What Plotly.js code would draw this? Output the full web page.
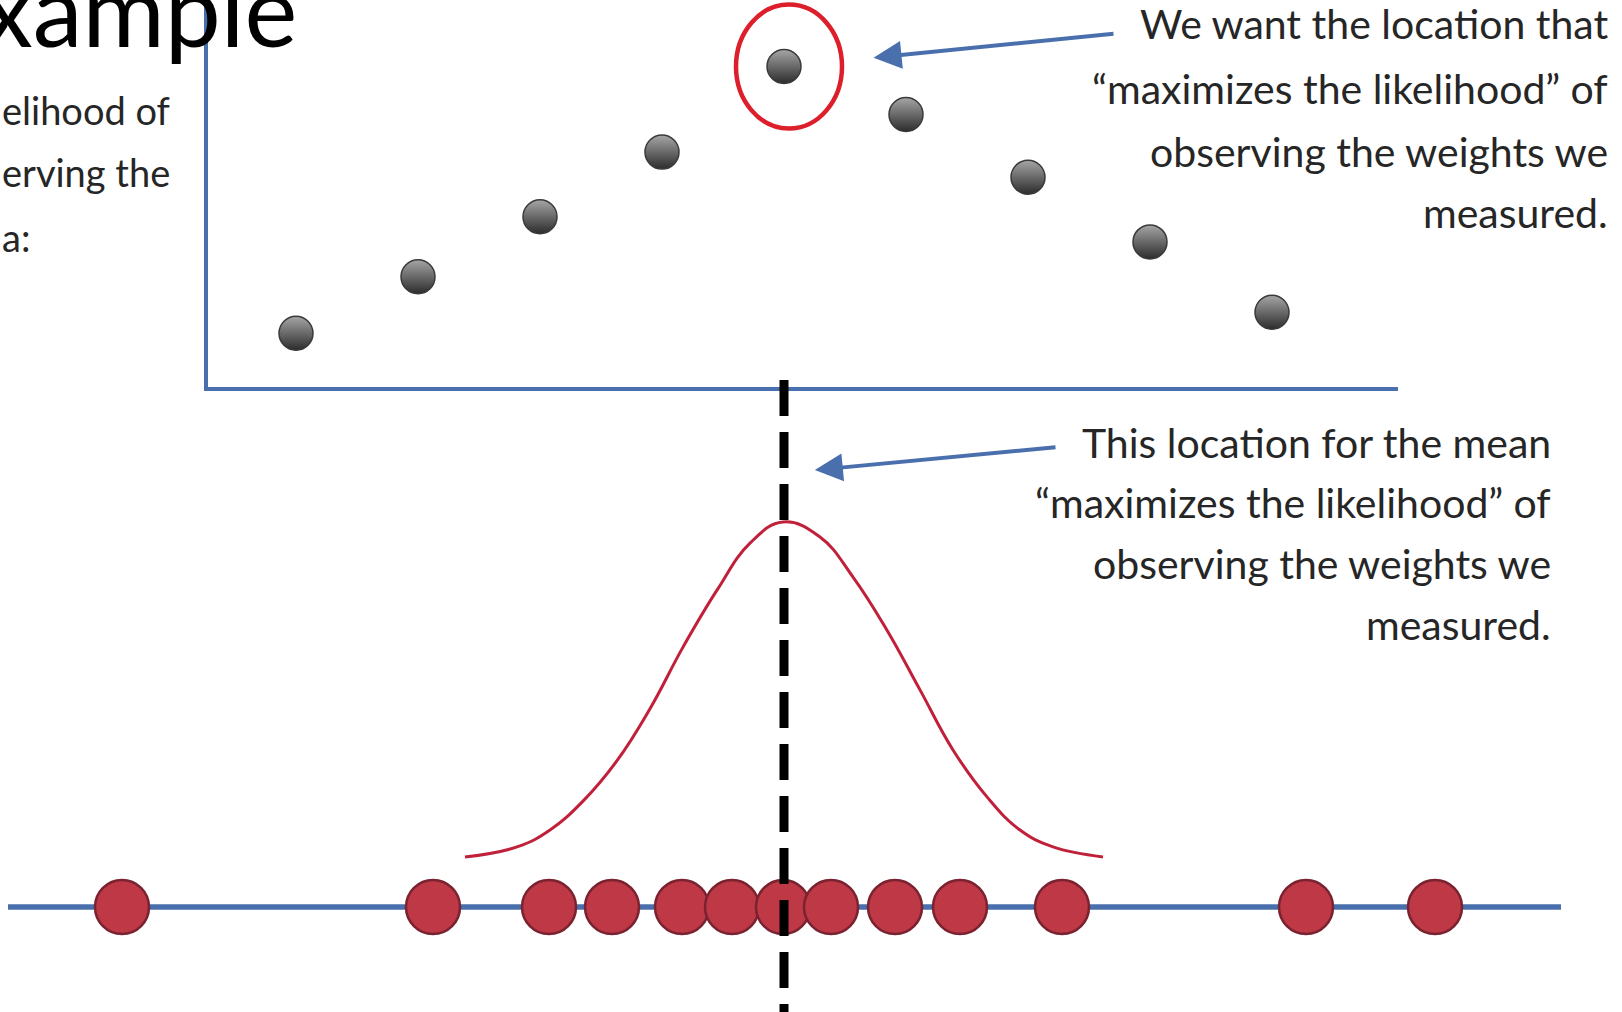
<!DOCTYPE html>
<html>
<head>
<meta charset="utf-8">
<script src="https://cdn.plot.ly/plotly-3.0.1.min.js"></script>
<style>html,body{margin:0;padding:0;background:#fff;}#chart{width:1622px;height:1012px;}</style>
</head>
<body>
<div id="chart"></div>
<script>
// ---- data (weights in arbitrary units) ----
var candidateMeans = [14.8, 20.9, 27.0, 33.1, 39.2, 45.3, 51.4, 57.5, 63.6];
var likelihoods    = [13.9, 28.5, 44.0, 60.7, 82.8, 70.4, 54.2, 37.5, 19.3];
var weights = [6.1, 21.65, 27.45, 30.6, 34.1, 36.6, 39.15, 41.55, 44.75, 48.0, 53.1, 65.3, 71.75];
var curveX = [23.25, 25.85, 27.5, 29.15, 30.85, 32.5, 34.15, 35.85, 37.5, 39.15, 41.0, 42.65, 44.35, 46.0, 47.65, 49.35, 51.0, 52.65, 55.15];
var curveY = [0.130, 0.156, 0.200, 0.275, 0.380, 0.515, 0.675, 0.823, 0.945, 1.000, 0.961, 0.857, 0.719, 0.564, 0.408, 0.286, 0.200, 0.156, 0.130];
var numberLineX = [0.4, 78.05];
var numberLineY = [0, 0];
var meanWeight = 39.2;
var topText = ["We want the location that", "\u201cmaximizes the likelihood\u201d of", "observing the weights we", "measured."];
var bottomText = ["This location for the mean", "\u201cmaximizes the likelihood\u201d of", "observing the weights we", "measured."];
var leftText = ["elihood of", "erving the", "a:"];
var titleText = "xample";

// ---- styles ----
var W = 1622, H = 1012;
var BLUE = '#4a6fad', TXT = '#262626';
function px(x) { return x / W; }
function py(y) { return (H - y) / H; }

var iMax = 0;
for (var i = 1; i < likelihoods.length; i++) if (likelihoods[i] > likelihoods[iMax]) iMax = i;

var traces = [
  { type: 'scatter', mode: 'markers', x: candidateMeans, y: likelihoods, xaxis: 'x2', yaxis: 'y',
    cliponaxis: false, hoverinfo: 'skip',
    marker: { size: 34, color: '#a6a6a6', gradient: { type: 'vertical', color: '#2c2c2c' },
              line: { color: '#3a3a3a', width: 1.5 } } },
  { type: 'scatter', mode: 'lines', x: numberLineX, y: numberLineY, xaxis: 'x', yaxis: 'y2',
    line: { color: BLUE, width: 5.5 }, hoverinfo: 'skip' },
  { type: 'scatter', mode: 'lines', x: curveX, y: curveY, xaxis: 'x', yaxis: 'y2',
    line: { color: '#c0203a', width: 3, shape: 'spline', smoothing: 1.2 }, hoverinfo: 'skip' },
  { type: 'scatter', mode: 'markers', x: weights, y: weights.map(function () { return 0; }), xaxis: 'x', yaxis: 'y2',
    cliponaxis: false, hoverinfo: 'skip',
    marker: { size: 54, color: '#be3846', line: { color: '#7a2230', width: 2.5 } } }
];

function ann(text, xr, yc, size, anchor, color) {
  return { text: text, xref: 'paper', yref: 'paper', x: px(xr), y: py(yc), xanchor: anchor || 'right', yanchor: 'middle',
           showarrow: false, font: { family: 'Lato, "Open Sans", sans-serif', size: size, color: color || TXT } };
}

var annotations = [];
var topY = [24, 88, 151, 212];
topText.forEach(function (t, k) { annotations.push(ann(t, 1610, topY[k], 41)); });
var botY = [442, 502, 563, 624];
bottomText.forEach(function (t, k) { annotations.push(ann(t, 1553, botY[k], 41)); });
var leftY = [110, 172, 237];
leftText.forEach(function (t, k) { annotations.push(ann(t, 0, leftY[k], 38, 'left')); });
annotations.push(ann(titleText, 299, 8, 100, 'right', '#000'));

// arrows
annotations.push({ text: '', xref: 'x2', yref: 'y', x: candidateMeans[iMax], y: likelihoods[iMax],
  axref: 'pixel', ayref: 'pixel', ax: 331, ay: -33, standoff: 90, showarrow: true,
  arrowhead: 2, arrowsize: 1.4, arrowwidth: 4, arrowcolor: BLUE });
annotations.push({ text: '', xref: 'x', yref: 'paper', x: meanWeight, y: py(473),
  axref: 'pixel', ayref: 'pixel', ax: 273, ay: -26, standoff: 31, showarrow: true,
  arrowhead: 2, arrowsize: 1.4, arrowwidth: 4, arrowcolor: BLUE });

var shapes = [
  { type: 'circle', xref: 'x2', yref: 'y', xsizemode: 'pixel', ysizemode: 'pixel',
    xanchor: candidateMeans[iMax], yanchor: likelihoods[iMax], x0: -48, x1: 58, y0: -62, y1: 62,
    line: { color: '#dc1f2b', width: 4.5 }, layer: 'above' },
  { type: 'line', xref: 'x', yref: 'paper', x0: meanWeight, x1: meanWeight, y0: py(380), y1: 0,
    line: { color: '#000', width: 9, dash: '36px,16px' }, layer: 'above' }
];

var hidden = { showgrid: false, zeroline: false, showticklabels: false, ticks: '', showline: false };
var layout = {
  width: W, height: H, margin: { l: 0, r: 0, t: 0, b: 0 },
  paper_bgcolor: '#fff', plot_bgcolor: 'rgba(0,0,0,0)', showlegend: false,
  xaxis: Object.assign({ domain: [0, 1], range: [0, 81.1], anchor: 'y2', visible: false }, hidden),
  yaxis2: Object.assign({ domain: [0, py(400)], range: [-0.2727, 1.3169], anchor: 'x', visible: false }, hidden),
  xaxis2: Object.assign({}, hidden, { domain: [px(208), px(1398)], range: [10.4, 69.9], anchor: 'y',
    showline: true, linecolor: BLUE, linewidth: 4 }),
  yaxis: Object.assign({}, hidden, { domain: [py(387), 1], range: [0, 100], anchor: 'x2',
    showline: true, linecolor: BLUE, linewidth: 4 }),
  annotations: annotations,
  shapes: shapes
};

Plotly.newPlot('chart', traces, layout, { displayModeBar: false, staticPlot: true });
</script>
</body>
</html>
